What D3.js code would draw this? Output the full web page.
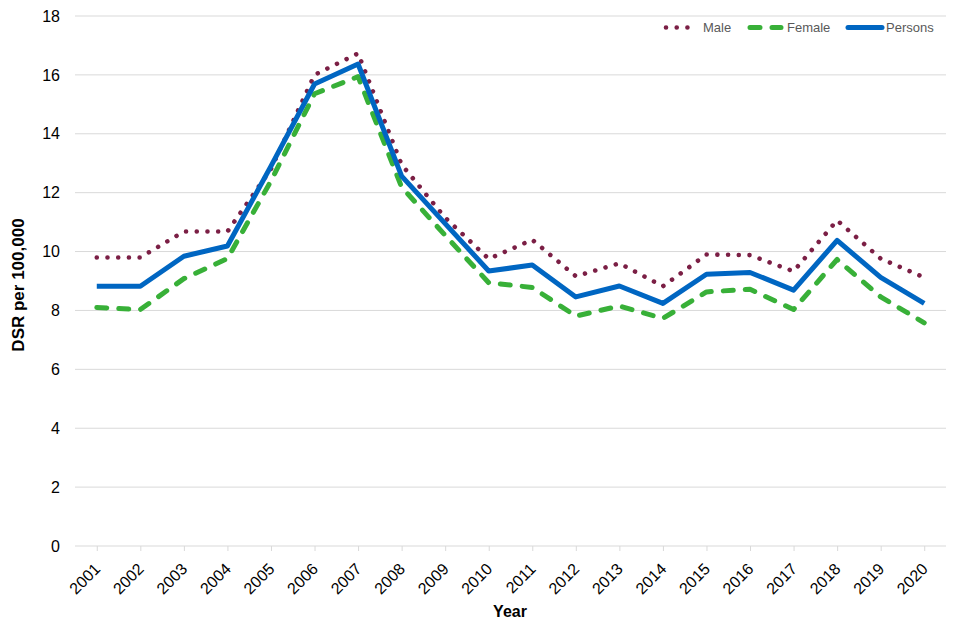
<!DOCTYPE html>
<html>
<head>
<meta charset="utf-8">
<script src="https://cdn.jsdelivr.net/npm/d3@7"></script>
<style>
  html, body { margin: 0; padding: 0; background: #fff; }
  svg { display: block; font-family: "Liberation Sans", Arial, sans-serif; }
</style>
</head>
<body>
<svg id="chart" width="960" height="640"></svg>
<script>
const years = ["2001","2002","2003","2004","2005","2006","2007","2008","2009","2010",
               "2011","2012","2013","2014","2015","2016","2017","2018","2019","2020"];
const male    = [9.8, 9.8, 10.68, 10.68, 12.8, 16.0, 16.73, 12.95, 11.15, 9.75, 10.4, 9.16, 9.6, 8.82, 9.9, 9.88, 9.33, 11.06, 9.76, 9.12];
const female  = [8.1, 8.03, 9.08, 9.76, 12.4, 15.36, 15.94, 12.19, 10.55, 8.94, 8.78, 7.81, 8.15, 7.73, 8.63, 8.72, 8.03, 9.73, 8.46, 7.58];
const persons = [8.82, 8.82, 9.84, 10.19, 12.9, 15.69, 16.37, 12.56, 10.95, 9.34, 9.54, 8.46, 8.83, 8.24, 9.23, 9.29, 8.69, 10.38, 9.12, 8.24];
const yTicks = [0, 2, 4, 6, 8, 10, 12, 14, 16, 18];
const seriesNames = ["Male", "Female", "Persons"];

const svg = d3.select("#chart");
const margin = {left: 75, right: 14, top: 16, bottom: 94};
const W = 960, H = 640;

const x = d3.scalePoint().domain(years).range([margin.left, W - margin.right]).padding(0.5);
const y = d3.scaleLinear().domain([0, 18]).range([H - margin.bottom, margin.top]);

// gridlines
svg.append("g")
  .selectAll("line")
  .data(yTicks)
  .join("line")
  .attr("x1", margin.left).attr("x2", W - margin.right)
  .attr("y1", d => y(d)).attr("y2", d => y(d))
  .attr("stroke", "#d9d9d9").attr("stroke-width", 1);

// y axis labels
const yAxis = svg.append("g")
  .attr("transform", `translate(${margin.left},0)`)
  .call(d3.axisLeft(y).tickValues(yTicks).tickSize(0).tickPadding(15).tickFormat(d3.format("d")));
yAxis.select(".domain").remove();
yAxis.selectAll("text").attr("font-size", 16).attr("fill", "#000")
  .attr("font-family", "Liberation Sans, Arial, sans-serif");

// x axis
const xAxis = svg.append("g")
  .attr("transform", `translate(0,${y(0)})`)
  .call(d3.axisBottom(x).tickSize(5).tickPadding(4));
xAxis.select(".domain").remove();
xAxis.selectAll("line").attr("stroke", "#d9d9d9");
xAxis.selectAll("text")
  .attr("font-size", 16).attr("fill", "#000")
  .attr("font-family", "Liberation Sans, Arial, sans-serif")
  .attr("text-anchor", "end")
  .attr("x", 0).attr("y", 0).attr("dy", 0)
  .attr("transform", "translate(4,24) rotate(-45)");

// axis titles
svg.append("text")
  .attr("transform", `translate(24,${(y(0)+y(18))/2 + 4}) rotate(-90)`)
  .attr("text-anchor", "middle")
  .attr("font-size", 17).attr("font-weight", "bold").attr("fill", "#000")
  .text("DSR per 100,000");
svg.append("text")
  .attr("x", 510).attr("y", 617)
  .attr("text-anchor", "middle")
  .attr("font-size", 16).attr("font-weight", "bold").attr("fill", "#000")
  .text("Year");

// series
const styles = {
  Male:    {color: "#7b1f45", width: 4.6, dash: "0.01,10.7", cap: "round"},
  Female:  {color: "#38b038", width: 5,   dash: "10,12",     cap: "round"},
  Persons: {color: "#0066c2", width: 5,   dash: null,        cap: "butt"}
};
const dataSets = {Male: male, Female: female, Persons: persons};
const line = d3.line().x((d, i) => x(years[i])).y(d => y(d));

["Male", "Female", "Persons"].forEach(name => {
  const s = styles[name];
  svg.append("path")
    .datum(dataSets[name])
    .attr("d", line)
    .attr("fill", "none")
    .attr("stroke", s.color)
    .attr("stroke-width", s.width)
    .attr("stroke-linecap", s.cap)
    .attr("stroke-linejoin", "round")
    .attr("stroke-dasharray", s.dash);
});

// legend
const legendItems = [
  {name: "Male", x1: 666, x2: 698, tx: 703},
  {name: "Female", x1: 750, x2: 781, tx: 787},
  {name: "Persons", x1: 848, x2: 882, tx: 886}
];
const lg = svg.append("g");
legendItems.forEach(it => {
  const s = styles[it.name];
  lg.append("line")
    .attr("x1", it.x1).attr("x2", it.x2).attr("y1", 27.5).attr("y2", 27.5)
    .attr("stroke", s.color).attr("stroke-width", s.width)
    .attr("stroke-linecap", "round")
    .attr("stroke-dasharray", it.name === "Male" ? "0.01,10.7" : (it.name === "Female" ? "10,12" : null));
  lg.append("text")
    .attr("x", it.tx).attr("y", 32)
    .attr("font-size", 13).attr("fill", "#595959")
    .text(it.name);
});
</script>
</body>
</html>
